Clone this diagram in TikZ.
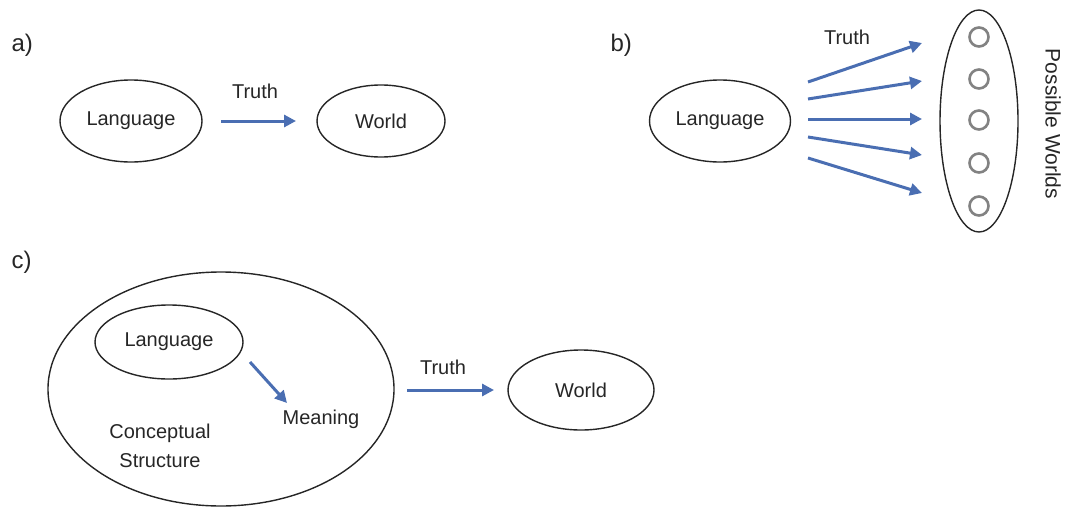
\documentclass[tikz,border=0pt]{standalone}
\usepackage{fontspec}
\setmainfont{Liberation Sans}
\usetikzlibrary{shapes.geometric,arrows.meta}
\definecolor{arrowblue}{RGB}{74,110,178}
\definecolor{worldgray}{RGB}{130,130,130}
\begin{document}
\begin{tikzpicture}[x=1pt,y=-1pt,
  every node/.style={font=\fontsize{20}{23}\selectfont, text=black!85},
  blob/.style={draw=black!85, line width=1.4pt, ellipse, inner sep=0pt},
  flow/.style={draw=arrowblue, line width=3pt, -{Triangle[length=12pt,width=12pt]}},
  panel/.style={font=\fontsize{24}{28}\selectfont, anchor=west},
  worlddot/.style={draw=worldgray, line width=2.6pt, circle, minimum size=19pt, inner sep=0pt}]
\useasboundingbox (0,0) rectangle (1067,506);

% panel a
\node[panel] (la) at (8,45) {a)};
\node[blob, minimum width=142pt, minimum height=82pt] (langA) at (131,121) {Language};
\node[blob, minimum width=128pt, minimum height=72pt] (worldA) at (381,121) {World};
\coordinate (aS) at (221,121);
\coordinate (aE) at (296,121);
\draw[flow] (aS) -- (aE);
\node (truthA) at (255,91) {Truth};

% panel b
\node[panel] (lb) at (607,45) {b)};
\node[blob, minimum width=141pt, minimum height=82pt] (langB) at (720,121) {Language};
\node[blob, minimum width=78pt, minimum height=222pt] (pw) at (979,121) {};
\foreach \i/\y in {1/37,2/79,3/120,4/163,5/206}
  \node[worlddot] (w\i) at (979,\y) {};
\foreach \i/\ys/\ye in {1/82/43,2/99/81,3/119/119,4/137/155,5/158/193}{
  \coordinate (bs\i) at (808,\ys);
  \coordinate (be\i) at (922,\ye);
  \draw[flow] (bs\i) -- (be\i);
}
\node (truthB) at (847,37) {Truth};
\node[rotate=-90, font=\fontsize{21}{24}\selectfont] (pwlabel) at (1053,124) {Possible Worlds};

% panel c
\node[panel] (lc) at (8,262) {c)};
\node[blob, minimum width=346pt, minimum height=234pt] (cs) at (221,389) {};
\node[blob, minimum width=148pt, minimum height=74pt] (langC) at (169,342) {Language};
\node (meaning) at (321,419) {Meaning};
\node[align=center, font=\fontsize{20}{29}\selectfont] (concept) at (160,446) {Conceptual\\Structure};
\node[blob, minimum width=146pt, minimum height=80pt] (worldC) at (581,390) {World};
\coordinate (cS) at (407,390);
\coordinate (cE) at (494,390);
\draw[flow] (cS) -- (cE);
\node (truthC) at (443,367) {Truth};
\coordinate (mS) at (250,362);
\coordinate (mE) at (287,403);
\draw[flow] (mS) -- (mE);
\end{tikzpicture}
\end{document}
